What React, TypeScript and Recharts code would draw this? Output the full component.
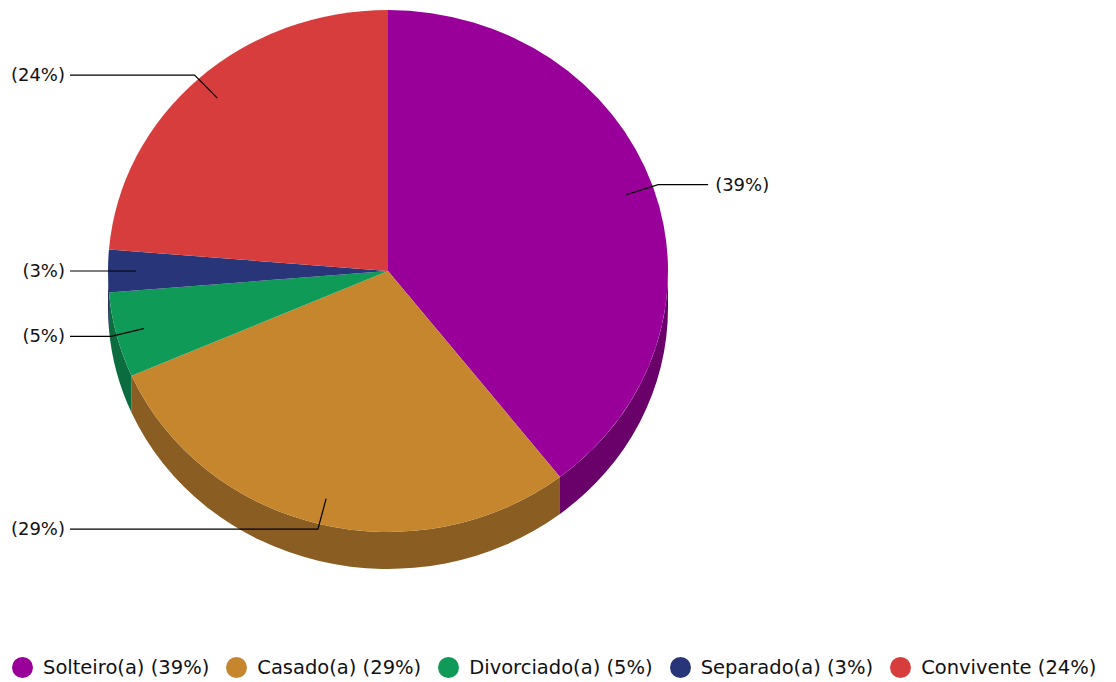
import React from 'react';
import { PieChart, Pie, Cell, Legend } from 'recharts';

const categories = ['Solteiro(a)', 'Casado(a)', 'Divorciado(a)', 'Separado(a)', 'Convivente'];
const counts = [15, 11, 2, 1, 9];
const topColors = ['#990099', '#c5862e', '#109a58', '#283579', '#d83d3e'];
const sideColors = ['#6a006a', '#8a5d22', '#0b6d3f', '#1c2557', '#992b2c'];

const FONT = '"DejaVu Sans", Verdana, sans-serif';
const RAD = Math.PI / 180;
const SQUASH = 261 / 280; // top face is a slightly flattened ellipse
const DEPTH = 37;

const total = counts.reduce((s, v) => s + v, 0);
const pct = (i: number) => Math.round((counts[i] / total) * 100);

const data = categories.map((name, i) => ({ name, value: counts[i] }));

const pt = (cx: number, cy: number, r: number, a: number): [number, number] => [
  cx + r * Math.cos(a * RAD),
  cy - r * SQUASH * Math.sin(a * RAD),
];

// flattened top face of a slice
const TopSlice = (props: any) => {
  const { cx, cy, outerRadius: r, startAngle, endAngle, fill } = props;
  const [x1, y1] = pt(cx, cy, r, startAngle);
  const [x2, y2] = pt(cx, cy, r, endAngle);
  const large = Math.abs(endAngle - startAngle) > 180 ? 1 : 0;
  const sweep = endAngle < startAngle ? 1 : 0;
  const d = `M${cx},${cy} L${x1},${y1} A${r},${r * SQUASH} 0 ${large} ${sweep} ${x2},${y2} Z`;
  return <path d={d} fill={fill} stroke="none" />;
};

// visible rim (lower half only)
const SideSlice = (props: any) => {
  const { cx, cy, outerRadius: r, startAngle, endAngle, fill } = props;
  const lo = Math.max(Math.min(startAngle, endAngle), -180);
  const hi = Math.min(Math.max(startAngle, endAngle), 0);
  if (hi <= lo) return <g />;
  const [xa, ya] = pt(cx, cy, r, hi);
  const [xb, yb] = pt(cx, cy, r, lo);
  const ry = r * SQUASH;
  const d = `M${xa},${ya} A${r},${ry} 0 0 1 ${xb},${yb} L${xb},${yb + DEPTH} A${r},${ry} 0 0 0 ${xa},${ya + DEPTH} Z`;
  return <path d={d} fill={fill} stroke="none" />;
};

const renderLabel = (props: any) => {
  const { cx, cy, midAngle, outerRadius: r, index } = props;
  const [sx, sy] = pt(cx, cy, r * 0.9, midAngle);
  const [ex, ey] = pt(cx, cy, r * 1.02, midAngle);
  const right = Math.cos(midAngle * RAD) >= 0;
  const endX = right ? ex + 50 : cx - r - 38;
  return (
    <g>
      <polyline
        points={`${sx},${sy} ${ex},${ey} ${endX},${ey}`}
        fill="none"
        stroke="#000"
        strokeWidth={1.2}
      />
      <text
        x={right ? endX + 7 : endX - 5}
        y={ey}
        dy={6}
        textAnchor={right ? 'start' : 'end'}
        fontFamily={FONT}
        fontSize={18}
        fill="#111"
      >
        ({pct(index)}%)
      </text>
    </g>
  );
};

const LegendContent = () => (
  <div
    style={{
      display: 'flex',
      alignItems: 'center',
      fontFamily: FONT,
      fontSize: 19.5,
      color: '#111',
      whiteSpace: 'nowrap',
    }}
  >
    {categories.map((c, i) => (
      <div key={c} style={{ display: 'flex', alignItems: 'center', marginRight: 17 }}>
        <span
          style={{
            display: 'inline-block',
            width: 21,
            height: 21,
            borderRadius: '50%',
            background: topColors[i],
            marginRight: 10,
          }}
        />
        <span>
          {c} ({pct(i)}%)
        </span>
      </div>
    ))}
  </div>
);

export default function App() {
  return (
    <div style={{ position: 'absolute', left: 0, top: 0, background: '#fff' }}>
      <PieChart width={1116} height={682} margin={{ top: 0, right: 0, bottom: 0, left: 0 }}>
        {/* rim first, top face drawn over it */}
        <Pie
          data={data}
          dataKey="value"
          cx={388}
          cy={271}
          outerRadius={280}
          startAngle={90}
          endAngle={-270}
          stroke="none"
          legendType="none"
          shape={SideSlice}
          inactiveShape={SideSlice}
          activeShape={SideSlice}
          isAnimationActive={false}
        >
          {data.map((d, i) => (
            <Cell key={`side-${d.name}`} fill={sideColors[i]} />
          ))}
        </Pie>
        <Pie
          data={data}
          dataKey="value"
          cx={388}
          cy={271}
          outerRadius={280}
          startAngle={90}
          endAngle={-270}
          stroke="none"
          shape={TopSlice}
          inactiveShape={TopSlice}
          activeShape={TopSlice}
          label={renderLabel}
          labelLine={false}
          isAnimationActive={false}
        >
          {data.map((d, i) => (
            <Cell key={`top-${d.name}`} fill={topColors[i]} />
          ))}
        </Pie>
        <Legend
          content={LegendContent}
          wrapperStyle={{ position: 'absolute', left: 12, top: 656, width: 'auto' }}
        />
      </PieChart>
    </div>
  );
}
